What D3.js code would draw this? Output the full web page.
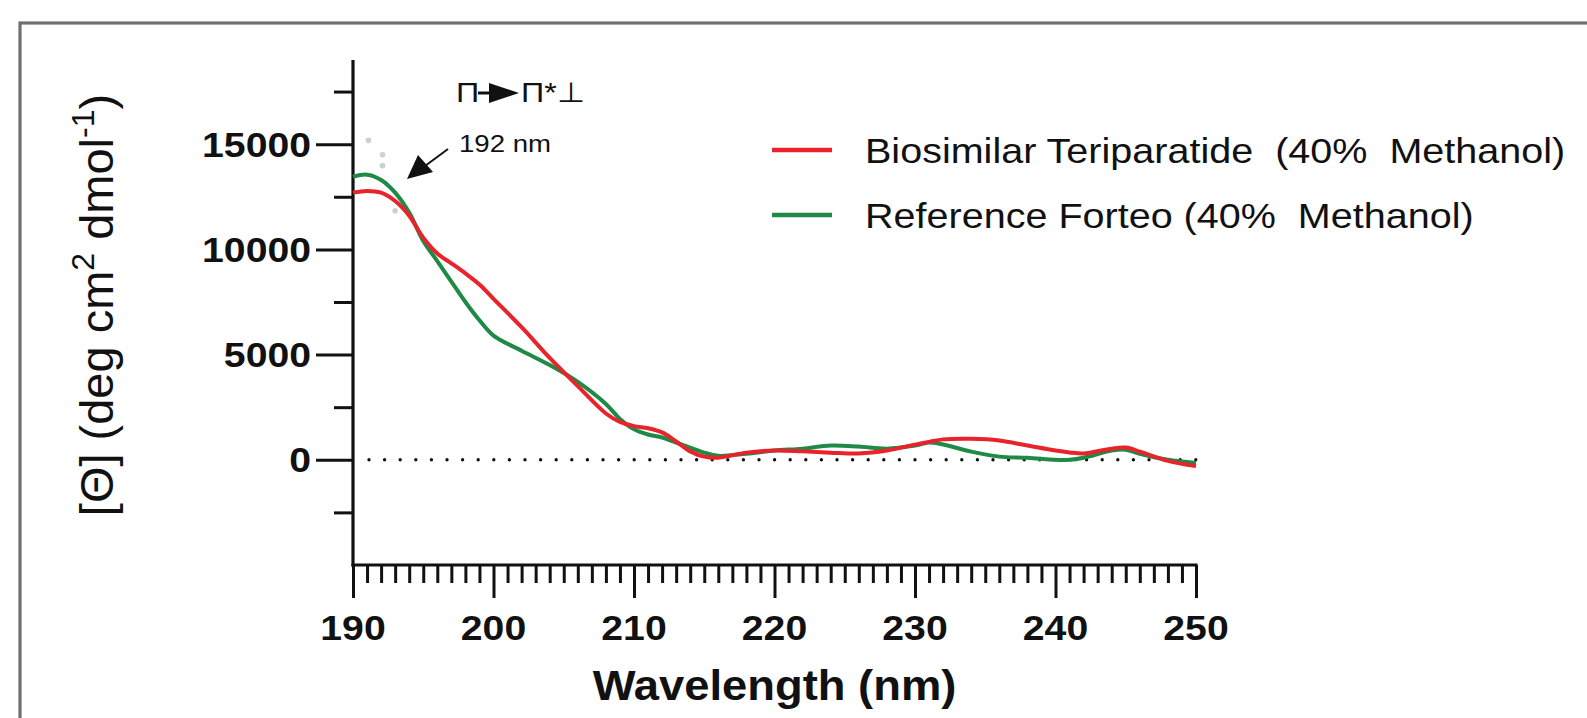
<!DOCTYPE html>
<html>
<head>
<meta charset="utf-8">
<script src="https://cdn.jsdelivr.net/npm/d3@7"></script>
<style>
  html, body { margin: 0; padding: 0; background: #fff; overflow: hidden; }
  svg { display: block; font-family: "Liberation Sans", Arial, sans-serif; }
</style>
</head>
<body>
<div id="chart"></div>
<script>
// wavelengths (nm)
const WAVELENGTHS = [190, 191, 192, 193, 194, 195, 196, 197, 198, 199, 200, 202, 204, 206, 208, 209, 210, 211, 212, 213, 214, 215, 216, 218, 220, 222, 224, 226, 228, 230, 231, 232, 234, 236, 238, 240, 241, 242, 244, 245, 246, 248, 250]
const BIOSIMILAR = [12700, 12780, 12700, 12300, 11600, 10550, 9800, 9340, 8860, 8330, 7650, 6300, 4840, 3500, 2200, 1800, 1600, 1500, 1300, 870, 400, 150, 100, 340, 440, 400, 340, 300, 440, 720, 850, 970, 1000, 920, 680, 440, 350, 300, 530, 580, 390, -50, -300]
const FORTEO = [13450, 13550, 13300, 12700, 11750, 10400, 9440, 8470, 7500, 6630, 5900, 5180, 4500, 3700, 2650, 1940, 1450, 1200, 1060, 820, 580, 340, 190, 290, 440, 530, 680, 630, 530, 680, 820, 730, 390, 150, 100, 0, 0, 100, 440, 480, 290, 0, -150]
// faint raw points visible near the peak
const RAW_X = [191.1, 192.1, 192.1, 193.0]
const RAW_Y = [15180, 14500, 13980, 11830]

const SERIES_NAMES = ["Biosimilar Teriparatide  (40%  Methanol)", "Reference Forteo (40%  Methanol)"]
const X_TICKS = [190, 200, 210, 220, 230, 240, 250]
const Y_TICKS = [0, 5000, 10000, 15000]

const width = 1587
const height = 718
const plotLeft = 353, plotRight = 1196, plotTop = 60, plotBottom = 565
const red = "#e8232b", green = "#1f8a45"
const sx = 1.12   // the original figure is a bit stretched sideways

const x = d3.scaleLinear().domain([190, 250]).range([plotLeft, plotRight])
const y = d3.scaleLinear().domain([-5000, 19000]).range([plotBottom, plotTop])

const svg = d3.select("#chart")
  .append("svg")
  .attr("width", width)
  .attr("height", height)
  .attr("viewBox", [0, 0, width, height])

// outer frame, runs off the right and bottom edge
svg.append("rect")
  .attr("x", 20).attr("y", 23)
  .attr("width", 1620).attr("height", 800)
  .attr("fill", "none")
  .attr("stroke", "#707070")
  .attr("stroke-width", 3.2)

function label(g, tx, ty, txt, size, weight, anchor, s) {
  return g.append("text")
    .attr("transform", `translate(${tx},${ty}) scale(${s || sx},1)`)
    .attr("font-size", size)
    .attr("font-weight", weight || "normal")
    .attr("text-anchor", anchor || "start")
    .attr("fill", "#111")
    .attr("xml:space", "preserve")
    .text(txt)
}

// y axis with major and minor ticks
const yAxis = svg.append("g")
  .attr("transform", `translate(${plotLeft},0)`)
  .call(d3.axisLeft(y).tickValues(d3.range(-2500, 19000, 2500)).tickSize(19).tickFormat(""))
yAxis.select(".domain").remove()
yAxis.selectAll(".tick line")
  .attr("stroke", "#111").attr("stroke-width", 3)
  .filter(d => d % 5000 === 0).attr("x2", -37)
svg.append("line")
  .attr("x1", plotLeft).attr("x2", plotLeft)
  .attr("y1", plotTop).attr("y2", plotBottom + 1.5)
  .attr("stroke", "#111").attr("stroke-width", 3.2)

Y_TICKS.forEach(v => {
  label(svg, plotLeft - 42, y(v) + 12.5, v, 35, "bold", "end")
})

// x axis: minor tick per nm, major every 10
const xAxis = svg.append("g")
  .attr("transform", `translate(0,${plotBottom})`)
  .call(d3.axisBottom(x).tickValues(d3.range(190, 251, 1)).tickSize(18).tickFormat(""))
xAxis.select(".domain").remove()
xAxis.selectAll(".tick line")
  .attr("stroke", "#111").attr("stroke-width", 3)
  .filter(d => X_TICKS.includes(d)).attr("y2", 33)
svg.append("line")
  .attr("x1", plotLeft - 1.5).attr("x2", plotRight + 1.5)
  .attr("y1", plotBottom).attr("y2", plotBottom)
  .attr("stroke", "#111").attr("stroke-width", 3.2)

X_TICKS.forEach(v => {
  label(svg, x(v), 640, v, 35, "bold", "middle")
})

// axis titles
label(svg, (plotLeft + plotRight) / 2, 700, "Wavelength (nm)", 42, "bold", "middle", 1.08)

const yt = svg.append("text")
  .attr("transform", `translate(113,305) rotate(-90)`)
  .attr("font-size", 47)
  .attr("text-anchor", "middle")
  .attr("fill", "#111")
yt.append("tspan").text("[Θ] (deg cm")
yt.append("tspan").attr("font-size", 32).attr("dy", -19).text("2")
yt.append("tspan").attr("dy", 19).text(" dmol")
yt.append("tspan").attr("font-size", 32).attr("dy", -19).text("-1")
yt.append("tspan").attr("dy", 19).text(")")

// dotted zero line
svg.append("line")
  .attr("x1", x(190) + 16).attr("x2", x(250))
  .attr("y1", y(0)).attr("y2", y(0))
  .attr("stroke", "#111")
  .attr("stroke-width", 3.4)
  .attr("stroke-linecap", "round")
  .attr("stroke-dasharray", "0 15.6")

// faint raw points
svg.append("g")
  .selectAll("circle")
  .data(d3.zip(RAW_X, RAW_Y))
  .join("circle")
  .attr("cx", d => x(d[0]))
  .attr("cy", d => y(d[1]))
  .attr("r", 2.8)
  .attr("fill", "#cfcfcf")

const line = d3.line()
  .x(d => x(d[0]))
  .y(d => y(d[1]))
  .curve(d3.curveCatmullRom.alpha(0.5))

svg.append("path")
  .datum(d3.zip(WAVELENGTHS, FORTEO))
  .attr("d", line)
  .attr("fill", "none")
  .attr("stroke", green)
  .attr("stroke-width", 4)

svg.append("path")
  .datum(d3.zip(WAVELENGTHS, BIOSIMILAR))
  .attr("d", line)
  .attr("fill", "none")
  .attr("stroke", red)
  .attr("stroke-width", 4)

// legend
const legendY = [150, 215];
[red, green].forEach((c, i) => {
  svg.append("line")
    .attr("x1", 772).attr("x2", 832)
    .attr("y1", legendY[i]).attr("y2", legendY[i])
    .attr("stroke", c).attr("stroke-width", 4.5)
  label(svg, 865, legendY[i] + 13, SERIES_NAMES[i], 35, "normal", "start", 1.13)
})

// annotation: pi -> pi* transition at 192 nm
label(svg, 456, 102, "Π", 28, "normal", "start", 1.15)
svg.append("line")
  .attr("x1", 478).attr("x2", 494)
  .attr("y1", 93).attr("y2", 93)
  .attr("stroke", "#111").attr("stroke-width", 3)
svg.append("path")
  .attr("d", "M489,83 L519,93 L489,103 Z")
  .attr("fill", "#111")
label(svg, 521, 102, "Π*⊥", 28, "normal", "start", 1.15)

label(svg, 459, 152, "192 nm", 24, "normal", "start", 1.15)

// arrow pointing at the peak
svg.append("line")
  .attr("x1", 448).attr("y1", 149)
  .attr("x2", 425).attr("y2", 166)
  .attr("stroke", "#111").attr("stroke-width", 2)
svg.append("path")
  .attr("d", "M407,179 L418,155 L433,172 Z")
  .attr("fill", "#111")
</script>
</body>
</html>
